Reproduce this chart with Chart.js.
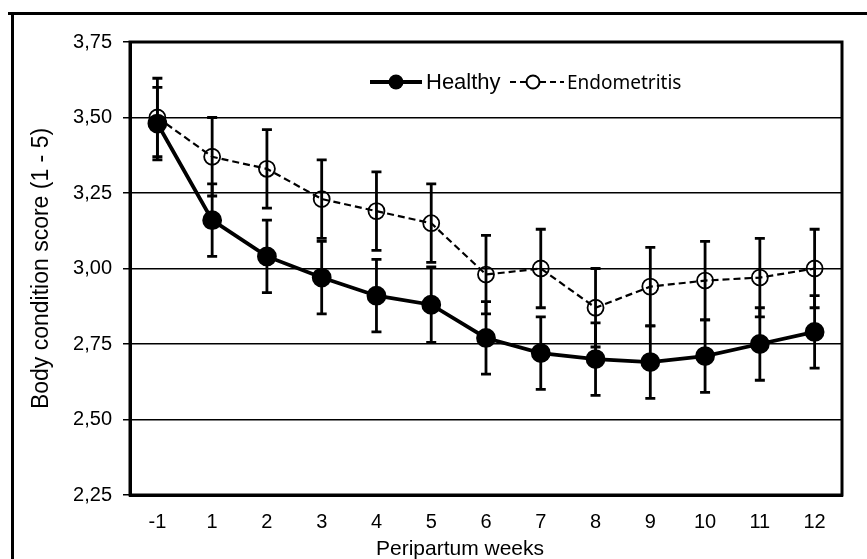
<!DOCTYPE html>
<html>
<head>
<meta charset="utf-8">
<script src="https://cdn.jsdelivr.net/npm/chart.js@4.4.1/dist/chart.umd.min.js"></script>
<style>
  html, body { margin: 0; padding: 0; background: #fff; }
  #wrap { width: 867px; height: 559px; }
</style>
</head>
<body>
<div id="wrap"><canvas id="chartBcs" width="867" height="559"></canvas></div>
<script>
const weeks = ['-1', '1', '2', '3', '4', '5', '6', '7', '8', '9', '10', '11', '12'];
const healthy = [3.48, 3.16, 3.04, 2.97, 2.91, 2.88, 2.77, 2.72, 2.70, 2.69, 2.71, 2.75, 2.79];
const healthyErr = [0.12, 0.12, 0.12, 0.12, 0.12, 0.125, 0.12, 0.12, 0.12, 0.12, 0.12, 0.12, 0.12];
const endometritis = [3.50, 3.37, 3.33, 3.23, 3.19, 3.15, 2.98, 3.00, 2.87, 2.94, 2.96, 2.97, 3.00];
const endometritisErr = [0.13, 0.13, 0.13, 0.13, 0.13, 0.13, 0.13, 0.13, 0.13, 0.13, 0.13, 0.13, 0.13];
const yTicks = [2.25, 2.50, 2.75, 3.00, 3.25, 3.50, 3.75];

// outer frame + plot box
const framePlugin = {
    id: 'frame',
    beforeDraw(chart) {
        const ctx = chart.ctx;
        ctx.save();
        ctx.fillStyle = '#000';
        ctx.fillRect(11, 12, 3, 547);
        ctx.fillRect(8, 12, 859, 3);
        ctx.restore();
    },
    afterDraw(chart) {
        const {ctx, chartArea: a} = chart;
        ctx.save();
        ctx.strokeStyle = '#000';
        ctx.lineWidth = 3;
        ctx.strokeRect(a.left, a.top, a.right - a.left, a.bottom - a.top);
        // x axis title sits a bit left of centre in the original
        ctx.fillStyle = '#000';
        ctx.font = '21px "Liberation Sans", Arial, sans-serif';
        ctx.textAlign = 'center';
        ctx.textBaseline = 'alphabetic';
        ctx.fillText('Peripartum weeks', 460, 555);
        ctx.restore();
    }
};

// vertical error bars with caps
const errorBars = {
    id: 'errorBars',
    afterDatasetsDraw(chart) {
        const ctx = chart.ctx;
        const y = chart.scales.y;
        const sets = [[0, healthy, healthyErr], [1, endometritis, endometritisErr]];
        ctx.save();
        ctx.strokeStyle = '#000';
        ctx.lineWidth = 2.8;
        sets.forEach(([idx, vals, errs]) => {
            const meta = chart.getDatasetMeta(idx);
            meta.data.forEach((pt, i) => {
                const x = pt.x;
                const yt = y.getPixelForValue(vals[i] + errs[i]);
                const yb = y.getPixelForValue(vals[i] - errs[i]);
                ctx.beginPath();
                ctx.moveTo(x, yt); ctx.lineTo(x, yb);
                ctx.moveTo(x - 5, yt); ctx.lineTo(x + 5, yt);
                ctx.moveTo(x - 5, yb); ctx.lineTo(x + 5, yb);
                ctx.stroke();
            });
        });
        ctx.restore();
    }
};

// legend inside plot
const legendInside = {
    id: 'legendInside',
    afterDraw(chart) {
        const ctx = chart.ctx;
        const ly = 82;
        ctx.save();
        ctx.strokeStyle = '#000';
        ctx.fillStyle = '#000';
        ctx.lineWidth = 3.8;
        ctx.beginPath(); ctx.moveTo(370, ly); ctx.lineTo(422, ly); ctx.stroke();
        ctx.beginPath(); ctx.arc(396, ly, 7.5, 0, Math.PI * 2); ctx.fill();
        ctx.font = '22px "Liberation Sans", Arial, sans-serif';
        ctx.textBaseline = 'middle';
        ctx.fillText('Healthy', 426, ly + 1);

        ctx.lineWidth = 2.2;
        ctx.setLineDash([6, 4]);
        ctx.beginPath(); ctx.moveTo(510, ly); ctx.lineTo(526, ly); ctx.stroke();
        ctx.beginPath(); ctx.moveTo(540, ly); ctx.lineTo(564, ly); ctx.stroke();
        ctx.setLineDash([]);
        ctx.lineWidth = 2;
        ctx.beginPath(); ctx.arc(533, ly, 6.5, 0, Math.PI * 2); ctx.stroke();
        ctx.font = '19px "Noto Sans", sans-serif';
        ctx.fillText('Endometritis', 567, ly + 2);
        ctx.restore();
    }
};

new Chart(document.getElementById('chartBcs'), {
    type: 'line',
    data: {
        labels: weeks,
        datasets: [{
            label: 'Healthy',
            data: healthy,
            borderColor: '#000',
            backgroundColor: '#000',
            borderWidth: 3.8,
            pointRadius: 8,
            pointBackgroundColor: '#000',
            pointBorderColor: '#000',
            tension: 0
        }, {
            label: 'Endometritis',
            data: endometritis,
            borderColor: '#000',
            borderWidth: 2.2,
            borderDash: [7, 4],
            pointRadius: 8,
            pointBorderWidth: 1.8,
            pointBackgroundColor: 'rgba(0,0,0,0)',
            pointBorderColor: '#000',
            tension: 0
        }]
    },
    options: {
        responsive: false,
        animation: false,
        events: [],
        layout: { padding: { left: 0, right: 25, top: 42, bottom: 0 } },
        plugins: {
            legend: { display: false },
            tooltip: { enabled: false }
        },
        scales: {
            x: {
                offset: true,
                grid: { display: false, drawTicks: false },
                border: { display: true, color: '#000', width: 3 },
                ticks: {
                    color: '#000',
                    padding: 15,
                    maxRotation: 0,
                    font: { family: '"Liberation Sans", Arial', size: 20 }
                },
                afterFit(scale) { scale.height = 64; }
            },
            y: {
                min: 2.25,
                max: 3.75,
                afterBuildTicks(scale) { scale.ticks = yTicks.map(v => ({ value: v })); },
                grid: { color: '#000', lineWidth: 1.5, drawTicks: true, tickLength: 7, tickColor: '#000', tickWidth: 1.5 },
                border: { display: true, color: '#000', width: 3 },
                ticks: {
                    color: '#000',
                    padding: 11,
                    font: { family: '"Liberation Sans", Arial', size: 20 },
                    callback: v => Number(v).toFixed(2).replace('.', ',')
                },
                title: {
                    display: true,
                    text: 'Body condition score (1 - 5)',
                    color: '#000',
                    padding: { top: 28, bottom: 0 },
                    font: { family: '"Liberation Sans", Arial', size: 23 }
                },
                afterFit(scale) { scale.width = 130; }
            }
        }
    },
    plugins: [framePlugin, errorBars, legendInside]
});
</script>
</body>
</html>
